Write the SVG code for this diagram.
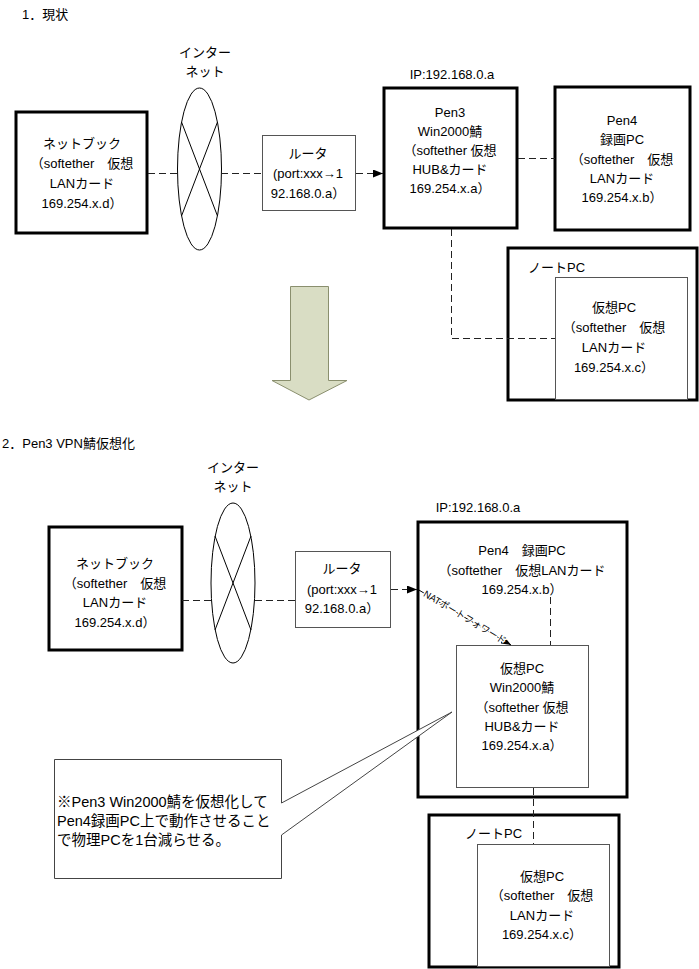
<svg xmlns="http://www.w3.org/2000/svg" width="699" height="969" viewBox="0 0 699 969">
<defs>
<style>
text{font-family:"Liberation Sans","Noto Sans CJK JP",sans-serif;font-size:13px;fill:#000}
.c{text-anchor:middle}
.thick{fill:#fff;stroke:#000;stroke-width:3}
.thin{fill:#fff;stroke:#555;stroke-width:1}
.dash{fill:none;stroke:#222;stroke-width:1;stroke-dasharray:7 4}
.solid{fill:none;stroke:#000;stroke-width:1}
.cloud{fill:#fff;stroke:#000;stroke-width:1}
.nat{font-size:9.5px;paint-order:stroke;stroke:#fff;stroke-width:2.5px}
.note{font-size:14.5px}
</style>
<marker id="ah" viewBox="0 0 10 8" refX="10" refY="4" markerWidth="10" markerHeight="8" markerUnits="userSpaceOnUse" orient="auto">
<path d="M0,0 L10,4 L0,8 Z" fill="#000"/>
</marker>
</defs>
<rect width="699" height="969" fill="#fff"/>

<text x="22" y="19">1．現状</text>
<text x="2" y="448">2．Pen3 VPN鯖仮想化</text>

<!-- section 1 -->
<g id="internet1">
<text class="c" x="205" y="57">インター</text>
<text class="c" x="205" y="76">ネット</text>
<ellipse class="cloud" cx="199.5" cy="169" rx="22" ry="81"/>
<line class="solid" x1="181.5" y1="122" x2="217.5" y2="216"/>
<line class="solid" x1="217.5" y1="122" x2="181.5" y2="216"/>
</g>

<g id="netbook1">
<rect class="thick" x="16" y="112" width="131" height="121"/>
<text class="c" x="82" y="148">ネットブック</text>
<text class="c" x="82" y="168">（softether　仮想</text>
<text class="c" x="82" y="188">LANカード</text>
<text class="c" x="82" y="208">169.254.x.d）</text>
</g>

<g id="router1">
<rect class="thin" x="262.5" y="135.5" width="93" height="75"/>
<text class="c" x="308" y="158">ルータ</text>
<text class="c" x="308" y="178">(port:xxx→1</text>
<text class="c" x="308" y="198">92.168.0.a）</text>
</g>

<g id="pen3">
<text class="c" x="452" y="79">IP:192.168.0.a</text>
<rect class="thick" x="384" y="88" width="133" height="140"/>
<text class="c" x="450" y="117">Pen3</text>
<text class="c" x="450" y="136">Win2000鯖</text>
<text class="c" x="450" y="155">（softether 仮想</text>
<text class="c" x="450" y="174">HUB&amp;カード</text>
<text class="c" x="450" y="193">169.254.x.a）</text>
</g>

<g id="pen4-1">
<rect class="thick" x="555" y="87" width="135" height="143"/>
<text class="c" x="622" y="125">Pen4</text>
<text class="c" x="622" y="144">録画PC</text>
<text class="c" x="622" y="164">（softether　仮想</text>
<text class="c" x="622" y="183">LANカード</text>
<text class="c" x="622" y="202">169.254.x.b）</text>
</g>

<g id="notepc1">
<rect class="thick" x="508" y="248" width="189" height="152"/>
<text x="528" y="272">ノートPC</text>
<rect class="thin" x="555.5" y="277.5" width="132" height="122"/>
<text class="c" x="614" y="312">仮想PC</text>
<text class="c" x="614" y="332">（softether　仮想</text>
<text class="c" x="614" y="352">LANカード</text>
<text class="c" x="614" y="372">169.254.x.c）</text>
</g>

<g id="bigarrow">
<polygon points="290.5,286.5 328.5,286.5 328.5,380.5 347,380.5 309,400 272,380.5 290.5,380.5" fill="#d9ddc4" stroke="#8a8f6e" stroke-width="1"/>
</g>

<!-- section 2 -->
<g id="internet2">
<text class="c" x="233" y="472">インター</text>
<text class="c" x="233" y="491">ネット</text>
<ellipse class="cloud" cx="233" cy="583" rx="22" ry="80"/>
<line class="solid" x1="215" y1="536" x2="251" y2="630"/>
<line class="solid" x1="251" y1="536" x2="215" y2="630"/>
</g>

<g id="netbook2">
<rect class="thick" x="49" y="527" width="133" height="123"/>
<text class="c" x="115" y="568">ネットブック</text>
<text class="c" x="115" y="588">（softether　仮想</text>
<text class="c" x="115" y="607">LANカード</text>
<text class="c" x="115" y="627">169.254.x.d）</text>
</g>

<g id="router2">
<rect class="thin" x="295.5" y="551.5" width="95" height="76"/>
<text class="c" x="342" y="573">ルータ</text>
<text class="c" x="342" y="594">(port:xxx→1</text>
<text class="c" x="342" y="613">92.168.0.a）</text>
</g>

<g id="pen4-2">
<text class="c" x="478" y="512">IP:192.168.0.a</text>
<rect class="thick" x="418" y="522" width="209" height="275"/>
<text class="c" x="522" y="555">Pen4　録画PC</text>
<text class="c" x="522" y="575">（softether　仮想LANカード</text>
<text class="c" x="522" y="594">169.254.x.b）</text>
</g>

<g id="vpc-server">
<rect class="thin" x="456.5" y="645.5" width="132" height="142"/>
<text class="c" x="522" y="673">仮想PC</text>
<text class="c" x="522" y="692">Win2000鯖</text>
<text class="c" x="522" y="712">（softether 仮想</text>
<text class="c" x="522" y="731">HUB&amp;カード</text>
<text class="c" x="522" y="750">169.254.x.a）</text>
</g>

<g id="callout">
<path d="M54.5,759.5 H281.5 V803 L452,712 L281.5,835 V878.5 H54.5 Z" fill="#fff" stroke="#444" stroke-width="1"/>
<text class="note" x="57" y="807">※Pen3 Win2000鯖を仮想化して</text>
<text class="note" x="57" y="826">Pen4録画PC上で動作させること</text>
<text class="note" x="57" y="845">で物理PCを1台減らせる。</text>
</g>

<g id="notepc2">
<rect class="thick" x="429" y="815" width="190" height="152"/>
<text x="465" y="838">ノートPC</text>
<rect class="thin" x="477.5" y="844.5" width="132" height="122"/>
<text class="c" x="542" y="881">仮想PC</text>
<text class="c" x="542" y="900">（softether　仮想</text>
<text class="c" x="542" y="920">LANカード</text>
<text class="c" x="542" y="939">169.254.x.c）</text>
</g>

<!-- connectors -->
<g id="connectors">
<line class="dash" x1="148" y1="173.5" x2="178" y2="173.5"/>
<line class="dash" x1="221" y1="173.5" x2="262" y2="173.5"/>
<line class="dash" x1="356" y1="173.5" x2="383" y2="173.5" marker-end="url(#ah)"/>
<line class="dash" x1="518" y1="158.5" x2="555" y2="158.5"/>
<polyline class="dash" points="451.5,229 451.5,338.5 555,338.5"/>

<line class="dash" x1="182" y1="600.5" x2="211" y2="600.5"/>
<line class="dash" x1="255" y1="600.5" x2="295" y2="600.5"/>
<line class="dash" x1="391" y1="589.5" x2="417" y2="589.5" marker-end="url(#ah)"/>
<line class="solid" x1="418" y1="589.5" x2="511" y2="645" marker-end="url(#ah)"/>
<line class="dash" x1="550.5" y1="597" x2="550.5" y2="645"/>
<line class="dash" x1="533.5" y1="788" x2="533.5" y2="844"/>
<text class="nat c" transform="translate(465,617) rotate(31)" dominant-baseline="central">NATポートフォワード</text>
</g>
</svg>
